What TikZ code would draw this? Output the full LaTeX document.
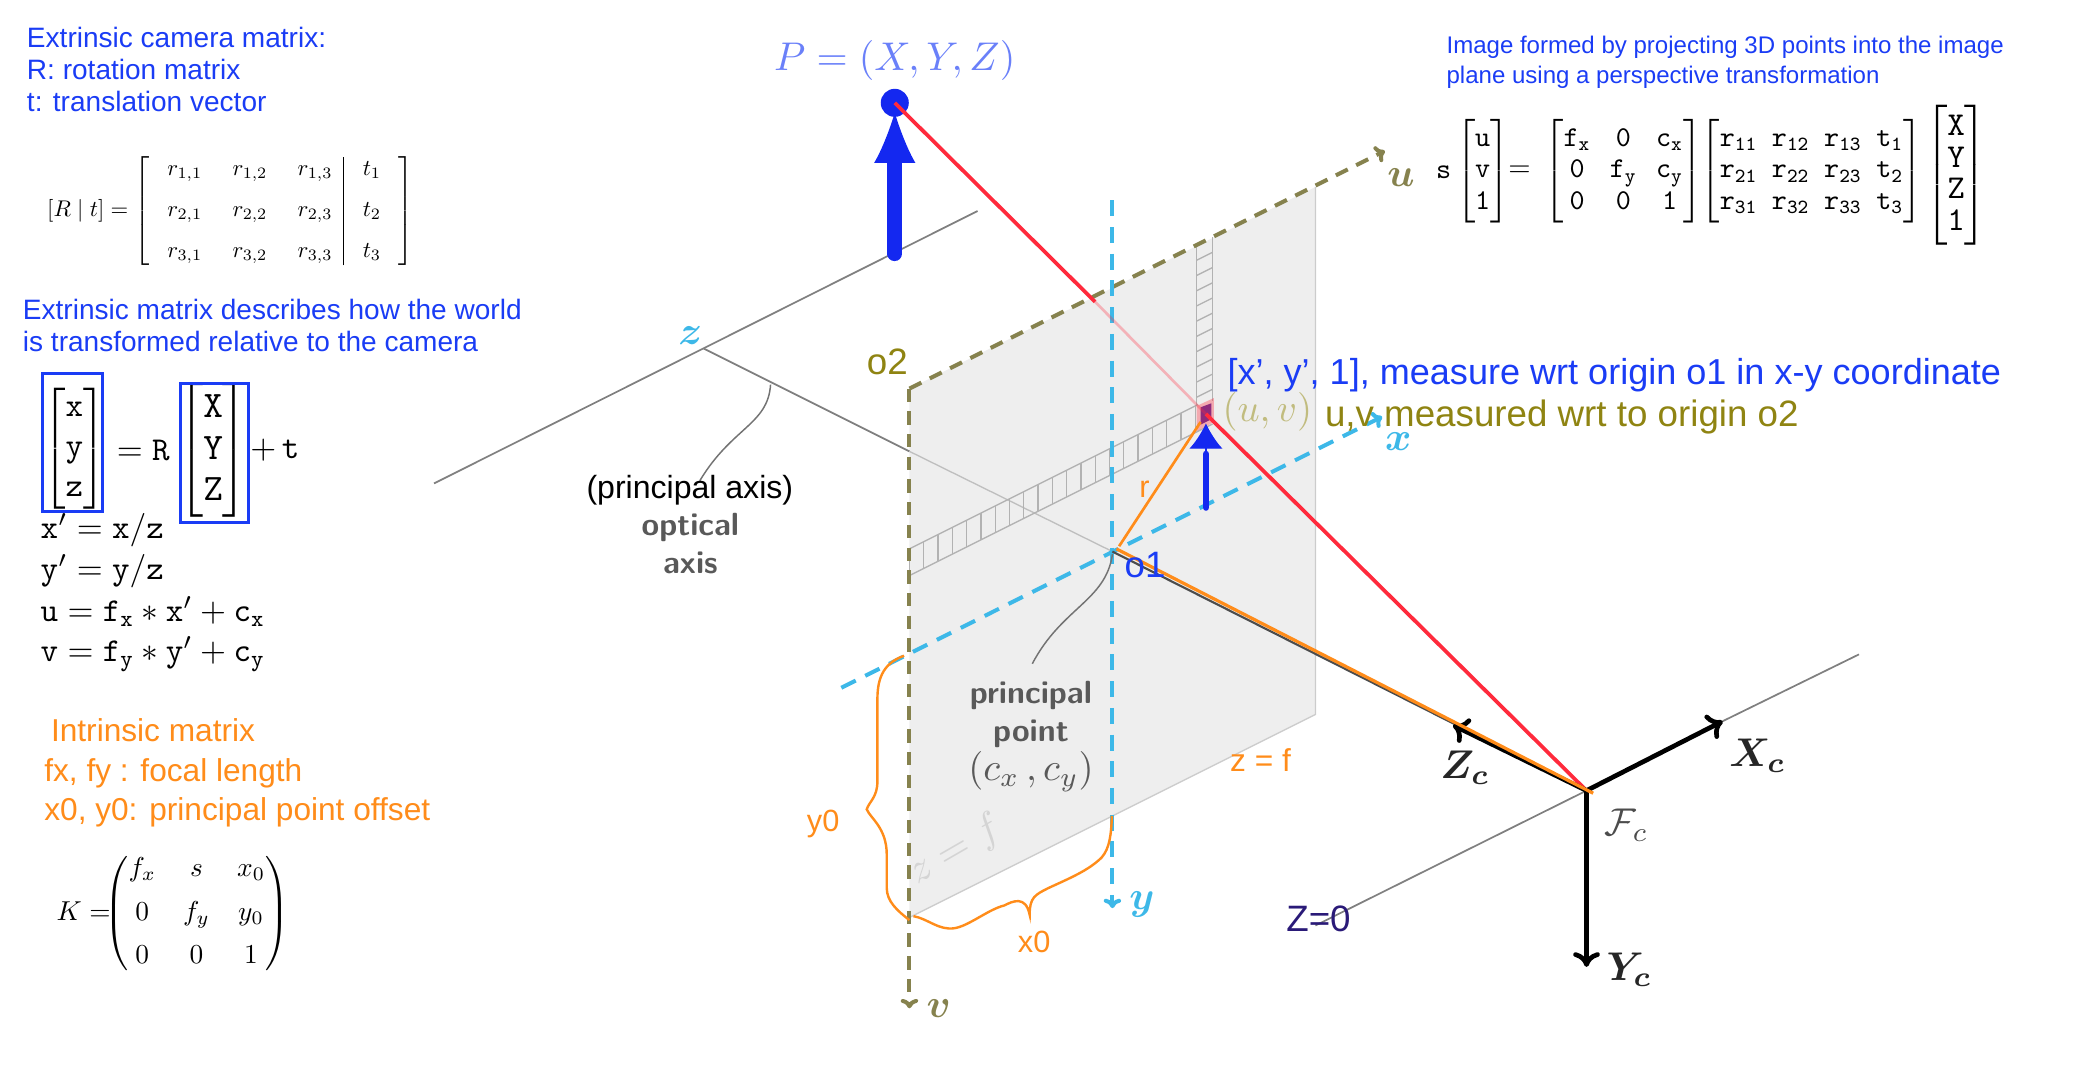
\documentclass[tikz,border=0pt]{standalone}
\usepackage{amsmath}
\usepackage[no-math]{fontspec}
\newfontfamily\arialfont{Liberation Sans}
\usetikzlibrary{arrows.meta}
\definecolor{noteblue}{HTML}{1A3CF5}
\definecolor{arrowblue}{HTML}{1428F0}
\definecolor{noteorange}{HTML}{FF8C1A}
\definecolor{noteolive}{HTML}{8F8412}
\definecolor{axisolive}{HTML}{86824E}
\definecolor{axiscyan}{HTML}{3DB8E8}
\definecolor{rayred}{HTML}{FF2A3C}
\definecolor{planegray}{HTML}{EEEEEE}
\definecolor{deepviolet}{HTML}{2A1A78}
\tikzset{
  note/.style={font=\arialfont\fontsize{21}{24}\selectfont,inner sep=0pt,anchor=north west,align=left},
  ornote/.style={font=\arialfont\fontsize{23.7}{28}\selectfont,inner sep=0pt,anchor=west,text=noteorange},
  bignote/.style={font=\arialfont\fontsize{27.5}{30}\selectfont,inner sep=0pt,anchor=west},
  eqn/.style={inner sep=0pt,anchor=west,text=black},
  ttline/.style={eqn,scale=2.5},
  sflabel/.style={font=\sffamily\bfseries\fontsize{24}{28}\selectfont,inner sep=0pt,text=black!65,align=center},
  axislabel/.style={inner sep=0pt,scale=3,font=\boldmath},
  thinaxis/.style={draw=black!50,line width=1.3pt},
  olivedash/.style={axisolive,line width=3pt,dash pattern=on 10pt off 7pt},
  cyandash/.style={axiscyan,line width=3pt,dash pattern=on 12pt off 8pt},
  stripline/.style={black!30,line width=1pt},
  camaxis/.style={line width=3.5pt,-{To[length=11pt,width=20pt]}},
  bracecurve/.style={noteorange,line width=1.8pt},
  leader/.style={black!55,line width=1.1pt},
  markbox/.style={draw=noteblue,line width=2.2pt}
}
\begin{document}
\begin{tikzpicture}[x=1pt,y=-1pt]
  \useasboundingbox (0,0) rectangle (1568,802.7);
  % points of the camera model
  \coordinate (fc) at (1188,592);
  \coordinate (o1) at (833,413);
  \coordinate (o2) at (681,291);
  \coordinate (pw) at (670,77);
  \coordinate (ps) at (903,310);
  \coordinate (zj) at (527,261);
  \coordinate (rcross) at (820,226);
  \coordinate (pa) at (985,140);
  \coordinate (pb) at (985,535);
  \coordinate (pc) at (681,687);
  % image plane
  \fill[planegray] (o2) -- (pa) -- (pb) -- (pc) -- cycle;
  \draw[black!20,line width=1pt] (pa) -- (pb) -- (pc);
  % world lines
  \coordinate (wl) at (325,362);
  \coordinate (wr) at (732,158);
  \coordinate (ze) at (681,338);
  \coordinate (xend) at (1392,490);
  \coordinate (xtip) at (1290,540);
  \coordinate (zfar) at (985,693);
  \draw[thinaxis] (wl) -- (wr);
  \draw[thinaxis] (zj) -- (ze);
  \draw[black!25,line width=1pt] (ze) -- (o1);
  \draw[thinaxis] (xtip) -- (xend);
  \draw[thinaxis] (fc) -- (zfar);
  % pixel strips
  \draw[stripline] (681,411) -- (897,303);
  \draw[stripline] (681,431) -- (908,317.5);
  \foreach \k in {0,...,20} {
    \draw[stripline] ({681+10.7*\k},{411-5.35*\k}) -- ({681+10.7*\k},{431-5.35*\k});
  }
  \draw[stripline] (896,183.5) -- (896,304);
  \draw[stripline] (908,177.5) -- (908,300);
  \foreach \k in {1,...,10} {
    \draw[stripline] (896,{183.5+11.4*\k}) -- (908,{177.5+11.4*\k});
  }
  \fill[rayred,opacity=0.35] (896,304) -- (909,298) -- (909,316) -- (896,323) -- cycle;
  \fill[violet!85!black,opacity=0.75] (899,305) -- (907,302) -- (907,314) -- (899,318) -- cycle;
  % image axes
  \coordinate (utip) at (1037,113);
  \coordinate (vtip) at (681,755);
  \coordinate (ytop) at (833,150);
  \coordinate (ytip) at (833,680);
  \coordinate (xleft) at (630,515);
  \coordinate (xtipi) at (1035,312);
  \draw[olivedash,-{To[length=7pt,width=13pt]}] (o2) -- (utip);
  \draw[olivedash,-{To[length=7pt,width=13pt]}] (o2) -- (vtip);
  \draw[cyandash,-{To[length=7pt,width=13pt]}] (ytop) -- (ytip);
  \draw[cyandash,-{To[length=7pt,width=13pt]}] (xleft) -- (xtipi);
  % rays
  \draw[rayred,line width=2.8pt] (pw) -- (rcross);
  \draw[rayred,opacity=0.3,line width=2pt] (rcross) -- (ps);
  \draw[rayred,line width=2.8pt] (ps) -- (fc);
  \draw[arrowblue,line width=11pt,line cap=round] (670,190) -- (670,118);
  \coordinate (pbase) at (670,125);
  \draw[arrowblue,line width=1pt,-{Latex[length=38pt,width=31pt]}] (pbase) -- (670,84);
  \fill[arrowblue] (pw) circle (10.5pt);
  \draw[rayred,line width=2.8pt] (pw) -- ++(8,8);
  \coordinate (sbase) at (903,380);
  \draw[arrowblue,line width=5pt,line cap=round] (sbase) -- (903,340);
  \draw[arrowblue,line width=1pt,-{Latex[length=19pt,width=25pt]}] (903,340) -- (903,317);
  % camera frame
  \draw[black!70,line width=1.6pt] (o1) -- (fc);
  \coordinate (zctip) at (1088,543);
  \coordinate (yctip) at (1188,724);
  \draw[black,camaxis] (fc) -- (zctip);
  \draw[black,camaxis] (fc) -- (xtip);
  \draw[black,camaxis] (fc) -- (yctip);
  % orange marks
  \coordinate (rlow) at (838,409);
  \coordinate (rtop) at (899,316);
  \coordinate (olow) at (836,411);
  \coordinate (ofc) at (1193,594);
  \draw[noteorange,line width=2pt] (rlow) -- (rtop);
  \draw[noteorange,line width=2.4pt] (olow) -- (ofc);
  \draw[bracecurve] (677,491) .. controls (660,497) and (657,510) .. (657,524) -- (657,585)
    .. controls (657,597) and (651,600) .. (649,606) .. controls (652,613) and (664,620) .. (664,640)
    -- (664,665) .. controls (664,675) and (672,682) .. (681,689);
  \draw[bracecurve] (684,686) .. controls (695,688) and (703,697) .. (715,695)
    .. controls (726,693) and (740,681) .. (752,678) .. controls (758,675) and (768,670) .. (771,685)
    .. controls (771,672) and (775,670) .. (785,665) .. controls (800,658) and (815,652) .. (825,642)
    .. controls (831,635) and (832,625) .. (832.6,611);
  % leaders
  \draw[leader] (577,288) .. controls (575,318) and (548,320) .. (524,360);
  \draw[leader] (833,415) .. controls (828,450) and (795,455) .. (773,497);
  % labels in the drawing
  \node[inner sep=0pt,text=noteblue!65,scale=3] (ptitle) at (670,45) {$P=(X,Y,Z)$};
  \node[axislabel,text=axisolive] (ulabel) at (1049,133) {$u$};
  \node[axislabel,text=axisolive] (vlabel) at (703,755) {$v$};
  \node[axislabel,text=axiscyan] (ylabel) at (855,677) {$y$};
  \node[axislabel,text=axiscyan] (xlabel) at (1047,331) {$x$};
  \node[axislabel,text=axiscyan] (zlabel) at (517,251) {$z$};
  \node[axislabel,text=black!85] (xclabel) at (1316,566) {$X_c$};
  \node[axislabel,text=black!85] (yclabel) at (1220,726) {$Y_c$};
  \node[axislabel,text=black!85] (zclabel) at (1097,575) {$Z_c$};
  \node[inner sep=0pt,text=black!70,scale=2.9] (fclabel) at (1218,618) {$\mathcal{F}_c$};
  \node[inner sep=0pt,text=black!25!olive!45,scale=2.9] (uvlabel) at (949,308) {$(u,v)$};
  \node[sflabel] (optical) at (517,407) {optical\\axis};
  \node[sflabel] (ppoint) at (772,535) {principal\\point};
  \node[inner sep=0pt,text=black!65,scale=2.9] (ppcoord) at (772,578) {$(c_x\,,c_y)$};
  \node[inner sep=0pt,text=black!17,rotate=30,scale=3.1] (zfplane) at (716,637) {$z=f$};
  \node[bignote,text=black,font=\arialfont\fontsize{24}{28}\selectfont] (paxis) at (439,367) {(principal axis)};
  \node[bignote,text=noteolive] (o2label) at (649,271) {o2};
  \node[bignote,text=noteblue] (o1label) at (842,423) {o1};
  \node[bignote,text=noteblue,font=\arialfont\fontsize{27}{30}\selectfont] (xynote) at (919,281) {[x’, y’, 1], measure wrt origin o1 in x-y coordinate};
  \node[bignote,text=noteolive] (uvnote) at (992,312) {u,v measured wrt to origin o2};
  \node[bignote,text=deepviolet] (zzero) at (963,688) {Z=0};
  \node[ornote,font=\arialfont\fontsize{23}{28}\selectfont] (rlabel) at (853,366) {r};
  \node[ornote] (zflabel) at (921,569) {z = f};
  \node[ornote,font=\arialfont\fontsize{23}{28}\selectfont] (x0label) at (762,705) {x0};
  \node[ornote,font=\arialfont\fontsize{23}{28}\selectfont] (y0label) at (604,617) {y0};
  % left column
  \node[note,text=noteblue] (extrinsic) at (20,20) {Extrinsic camera matrix:\\R: rotation matrix\\t: translation vector};
  \node[eqn,scale=1.7] (rtmat) at (35,158) {$[R\mid t]=\left[\;\begin{array}{ccc|c}
    r_{1,1} & \ r_{1,2} & \ r_{1,3} & \ t_1\\[6pt] r_{2,1} & \ r_{2,2} & \ r_{2,3} & \ t_2\\[6pt] r_{3,1} & \ r_{3,2} & \ r_{3,3} & \ t_3\end{array}\;\right]$};
  \node[note,text=noteblue] (worldnote) at (17,224) {Extrinsic matrix describes how the world\\is transformed relative to the camera};
  \node[eqn,scale=2.5] (camvec) at (32,336) {$\left[\begin{array}{@{}c@{}}\mathtt{x}\\\mathtt{y}\\\mathtt{z}\end{array}\right]$};
  \node[eqn,scale=2.5] (eqr) at (87,337) {$=\mathtt{R}$};
  \node[eqn,scale=2.8] (worldvec) at (133,337) {$\left[\begin{array}{@{}c@{}}\mathtt{X}\\[-1pt]\mathtt{Y}\\[-1pt]\mathtt{Z}\end{array}\right]$};
  \node[eqn,scale=2.5] (plust) at (187,337) {$+\,\mathtt{t}$};
  \draw[markbox] (32,280) rectangle (77,383);
  \draw[markbox] (135,287) rectangle (186,391);
  \node[ttline] (xprime) at (30,397) {$\mathtt{x}'=\mathtt{x}/\mathtt{z}$};
  \node[ttline] (yprime) at (30,428) {$\mathtt{y}'=\mathtt{y}/\mathtt{z}$};
  \node[ttline] (ueq) at (30,458) {$\mathtt{u}=\mathtt{f_x}*\mathtt{x}'+\mathtt{c_x}$};
  \node[ttline] (veq) at (30,490) {$\mathtt{v}=\mathtt{f_y}*\mathtt{y}'+\mathtt{c_y}$};
  \node[ornote] (intrinsic) at (38,547) {Intrinsic matrix};
  \node[ornote] (focal) at (33,579) {fx, fy : focal length};
  \node[ornote] (offset) at (33,608) {x0, y0: principal point offset};
  \node[eqn,scale=2.05] (kmat) at (42,684) {$K=\!\!\!\begin{pmatrix}f_x & s & x_0\\[4pt] 0 & f_y & y_0\\[4pt] 0 & 0 & 1\end{pmatrix}$};
  % right column
  \node[note,text=noteblue,font=\arialfont\fontsize{18}{22}\selectfont] (imgnote) at (1083,27) {Image formed by projecting 3D points into the image\\plane using a perspective transformation};
  \node[eqn,scale=2.15] (projlhs) at (1075,128) {$\mathtt{s}\left[\begin{array}{@{}c@{}}\mathtt{u}\\[-1pt]\mathtt{v}\\[-1pt]\mathtt{1}\end{array}\right]$};
  \node[eqn,scale=2.15] (projeq) at (1129,128) {$=$};
  \node[eqn,scale=2.15] (projf) at (1156,128) {$\left[\begin{array}{@{}c@{\ \ }c@{\ \ }c@{}}\mathtt{f_x}&\mathtt{0}&\mathtt{c_x}\\[-1pt]\mathtt{0}&\mathtt{f_y}&\mathtt{c_y}\\[-1pt]\mathtt{0}&\mathtt{0}&\mathtt{1}\end{array}\right]$};
  \node[eqn,scale=2.15] (projr) at (1273,128) {$\left[\begin{array}{@{}c@{\ \,}c@{\ \,}c@{\ \,}c@{}}\mathtt{r_{11}}&\mathtt{r_{12}}&\mathtt{r_{13}}&\mathtt{t_1}\\[-1pt]\mathtt{r_{21}}&\mathtt{r_{22}}&\mathtt{r_{23}}&\mathtt{t_2}\\[-1pt]\mathtt{r_{31}}&\mathtt{r_{32}}&\mathtt{r_{33}}&\mathtt{t_3}\end{array}\right]$};
  \node[eqn,scale=2.5] (projvec) at (1441,131) {$\left[\begin{array}{@{}c@{}}\mathtt{X}\\[-2.6pt]\mathtt{Y}\\[-2.6pt]\mathtt{Z}\\[-2.6pt]\mathtt{1}\end{array}\right]$};
\end{tikzpicture}
\end{document}
